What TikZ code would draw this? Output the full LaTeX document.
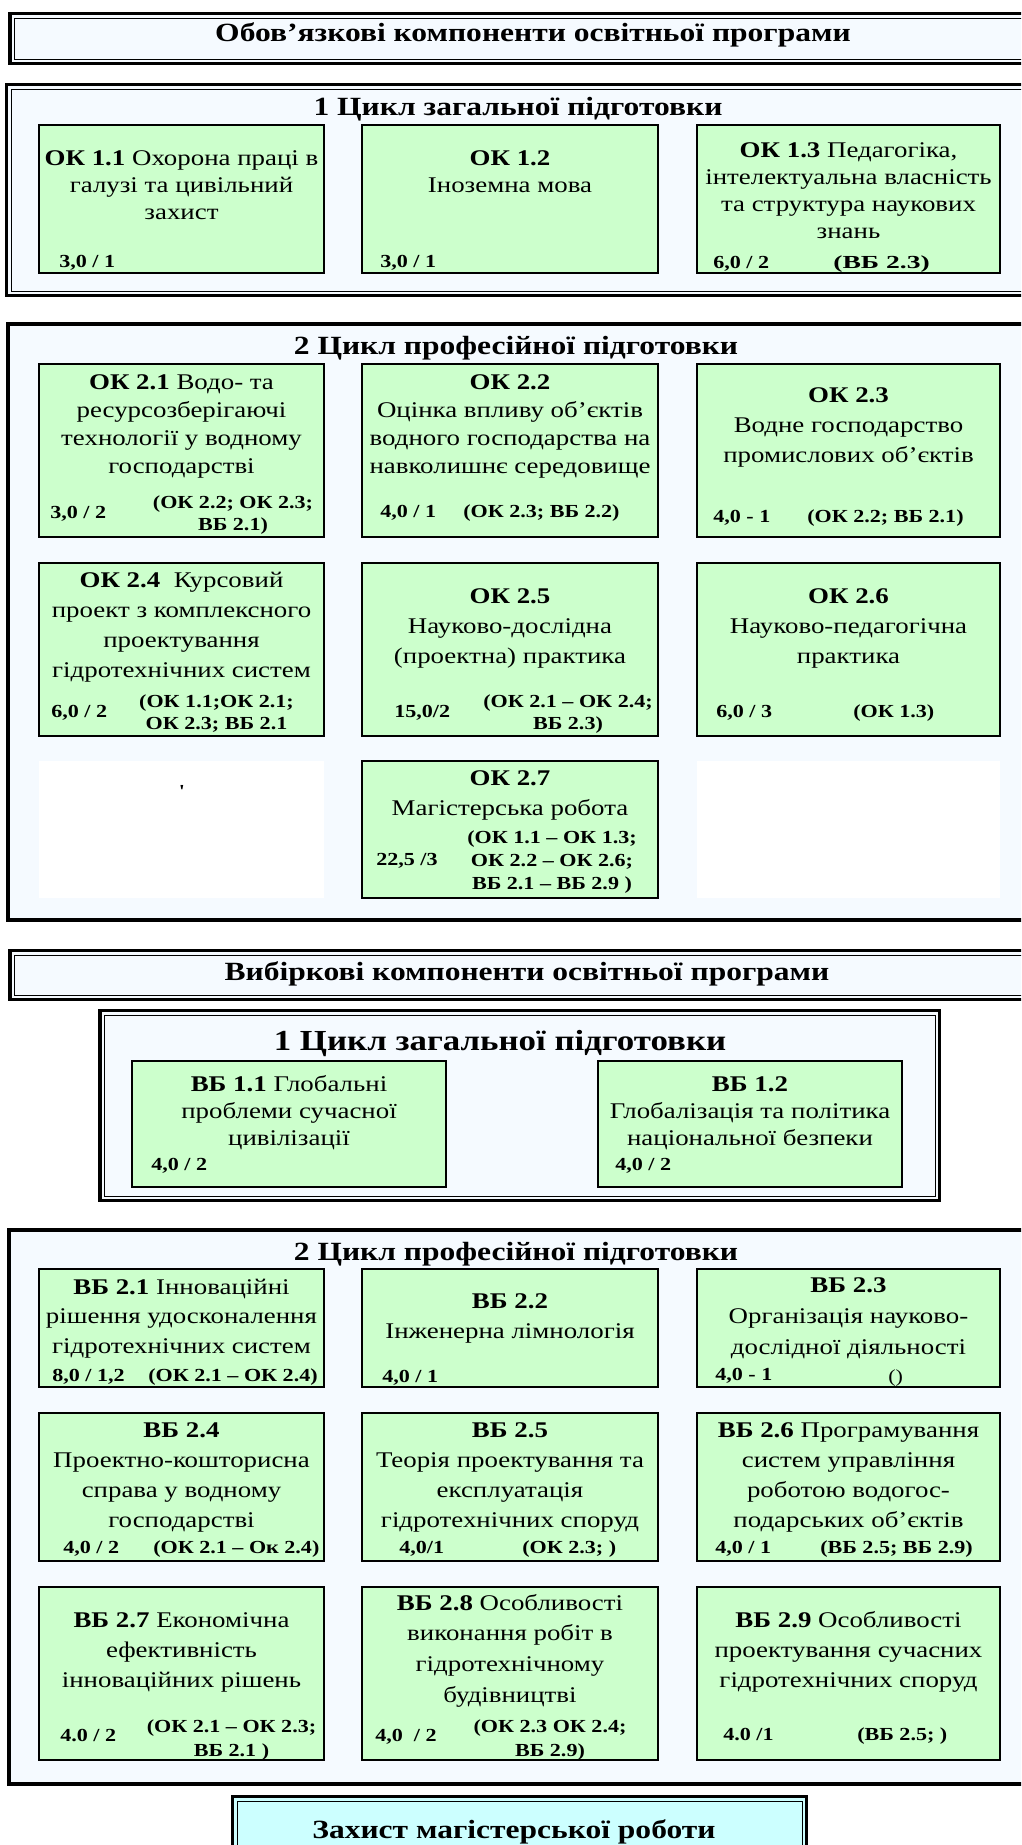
\documentclass[tikz,border=0pt]{standalone}
\usepackage{fontspec}
\setmainfont{Liberation Serif}[FakeStretch=1.2]
\newfontfamily\plainserif{Liberation Serif}[FakeStretch=1.2]
\definecolor{boxgreen}{RGB}{204,255,204}
\definecolor{framebg}{RGB}{245,250,255}
\definecolor{finalbg}{RGB}{204,255,255}
\newcommand{\smallfs}{\fontsize{13.8}{16.5}\selectfont\bfseries}
\newcommand{\headfs}{\fontsize{19.7}{24}\selectfont\bfseries}
\newcommand{\bigheadfs}{\fontsize{21.8}{26}\selectfont\bfseries}
\newcommand{\TB}[2]{{\fontsize{16.8}{#1}\selectfont\begin{tabular}[t]{@{}c@{}}#2\end{tabular}}}
\newcommand{\SB}[2]{{\fontsize{13.8}{#1}\selectfont\bfseries\begin{tabular}[t]{@{}c@{}}#2\end{tabular}}}
\setlength{\tabcolsep}{0pt}
\begin{document}
\begin{tikzpicture}[x=0.75pt,y=-0.75pt,
  gbox/.style={draw=black,line width=1.5pt,fill=boxgreen},
  wbox/.style={fill=white},
  outerline/.style={draw=black,line width=2.3pt,fill=framebg},
  innerline/.style={draw=black,line width=0.75pt},
  thickframe/.style={draw=black,line width=3pt,fill=framebg},
  txt/.style={inner sep=0pt,anchor=base},
  sm/.style={inner sep=0pt,anchor=base west,font=\smallfs},
  smc/.style={inner sep=0pt,anchor=base},
  head/.style={inner sep=0pt,anchor=base,font=\headfs}]
\useasboundingbox (0,0) rectangle (1021,1845);
\clip (0,0) rectangle (1021,1845);
\fill[white] (0,0) rectangle (1021,1845);
% ---------- Title 1
\path[outerline] (10,13.5) rectangle (1040,63.5);
\path[innerline] (14.5,18) rectangle (1040,59);
\node[head] (title1) at (533,41) {Обов’язкові компоненти освітньої програми};
% ---------- Section 1
\path[outerline] (6.5,84.5) rectangle (1040,295.5);
\path[innerline] (11,89) rectangle (1040,291);
\node[head] (h1) at (518,115) {1 Цикл загальної підготовки};
\path[gbox] (39,125) rectangle (324,273);
\path[gbox] (362,125) rectangle (658,273);
\path[gbox] (697,125) rectangle (1000,273);
\node[txt] (t11) at (181.5,165) {\TB{20.6pt}{\textbf{ОК 1.1} Охорона праці в\\галузі та цивільний\\захист}};
\node[sm] (s11) at (59,267) {3,0 / 1};
\node[txt] (t12) at (510,165) {\TB{20.6pt}{\textbf{ОК 1.2}\\Іноземна мова}};
\node[sm] (s12) at (380,267) {3,0 / 1};
\node[txt] (t13) at (848.5,157) {\TB{20.3pt}{\textbf{ОК 1.3} Педагогіка,\\інтелектуальна власність\\та структура наукових\\знань}};
\node[sm] (s13a) at (713,268) {6,0 / 2};
\node[sm,xscale=1.25,transform shape] (s13b) at (833,268) {(ВБ 2.3)};
% ---------- Section 2
\path[thickframe] (8,324) rectangle (1040,920);
\node[head] (h2) at (516,354) {2 Цикл професійної підготовки};
\path[gbox] (39,364) rectangle (324,537);
\path[gbox] (362,364) rectangle (658,537);
\path[gbox] (697,364) rectangle (1000,537);
\path[gbox] (39,563) rectangle (324,736);
\path[gbox] (362,563) rectangle (658,736);
\path[gbox] (697,563) rectangle (1000,736);
\path[wbox] (39,761) rectangle (324,898);
\path[gbox] (362,761) rectangle (658,898);
\path[wbox] (697,761) rectangle (1000,898);
\node[txt] (t21) at (181.5,389) {\TB{21pt}{\textbf{ОК 2.1} Водо- та\\ресурсозберігаючі\\технології у водному\\господарстві}};
\node[sm] (s21a) at (50,518) {3,0 / 2};
\node[smc] (s21b) at (233,508) {\SB{16.5pt}{(ОК 2.2; ОК 2.3;\\ВБ 2.1)}};
\node[txt] (t22) at (510,389) {\TB{21pt}{\textbf{ОК 2.2}\\Оцінка впливу об’єктів\\водного господарства на\\навколишнє середовище}};
\node[sm] (s22a) at (380,517) {4,0 / 1};
\node[sm] (s22b) at (463,517) {(ОК 2.3; ВБ 2.2)};
\node[txt] (t23) at (848.5,402) {\TB{22.8pt}{\textbf{ОК 2.3}\\Водне господарство\\промислових об’єктів}};
\node[sm] (s23a) at (713,522) {4,0 - 1};
\node[sm] (s23b) at (807,522) {(ОК 2.2; ВБ 2.1)};
\node[txt] (t24) at (181.5,587) {\TB{22.5pt}{\textbf{ОК 2.4}\ \ Курсовий\\проект з комплексного\\проектування\\гідротехнічних систем}};
\node[sm] (s24a) at (51,717) {6,0 / 2};
\node[smc] (s24b) at (216.5,707) {\SB{17.2pt}{(ОК 1.1;ОК 2.1;\\ОК 2.3; ВБ 2.1}};
\node[txt] (t25) at (510,603) {\TB{22.5pt}{\textbf{ОК 2.5}\\Науково-дослідна\\(проектна) практика}};
\node[sm] (s25a) at (394,717) {15,0/2};
\node[smc] (s25b) at (568,707) {\SB{17.2pt}{(ОК 2.1 – ОК 2.4;\\ВБ 2.3)}};
\node[txt] (t26) at (848.5,603) {\TB{22.5pt}{\textbf{ОК 2.6}\\Науково-педагогічна\\практика}};
\node[sm] (s26a) at (716,717) {6,0 / 3};
\node[sm] (s26b) at (853,717) {(ОК 1.3)};
\node[txt] (t27) at (510,785) {\TB{22.5pt}{\textbf{ОК 2.7}\\Магістерська робота}};
\node[smc] (s27b) at (552,843) {\SB{17.6pt}{(ОК 1.1 – ОК 1.3;\\ОК 2.2 – ОК 2.6;\\ВБ 2.1 – ВБ 2.9 )}};
\node[sm] (s27a) at (376,865) {22,5 /3};
\node[txt,font=\plainserif\bfseries\fontsize{13.8}{15}\selectfont] (tick) at (182,797) {'};
% ---------- Title 2
\path[outerline] (10,950.5) rectangle (1040,999.5);
\path[innerline] (14.5,955) rectangle (1040,995);
\node[head] (title2) at (527,980) {Вибіркові компоненти освітньої програми};
% ---------- Section 3
\path[outerline] (100,1010.5) rectangle (939.5,1200.5);
\path[innerline] (104.5,1015) rectangle (935,1196);
\node[head,font=\bigheadfs] (h3) at (500,1050) {1 Цикл загальної підготовки};
\path[gbox] (132,1061) rectangle (446,1187);
\path[gbox] (598,1061) rectangle (902,1187);
\node[txt] (t31) at (289,1091) {\TB{20.3pt}{\textbf{ВБ 1.1} Глобальні\\проблеми сучасної\\цивілізації}};
\node[sm] (s31) at (151,1170) {4,0 / 2};
\node[txt] (t32) at (750,1091) {\TB{20.3pt}{\textbf{ВБ 1.2}\\Глобалізація та політика\\національної безпеки}};
\node[sm] (s32) at (615,1170) {4,0 / 2};
% ---------- Section 4
\path[thickframe] (8.5,1230) rectangle (1040,1784);
\node[head] (h4) at (516,1260) {2 Цикл професійної підготовки};
\path[gbox] (39,1269) rectangle (324,1387);
\path[gbox] (362,1269) rectangle (658,1387);
\path[gbox] (697,1269) rectangle (1000,1387);
\path[gbox] (39,1413) rectangle (324,1561);
\path[gbox] (362,1413) rectangle (658,1561);
\path[gbox] (697,1413) rectangle (1000,1561);
\path[gbox] (39,1587) rectangle (324,1760);
\path[gbox] (362,1587) rectangle (658,1760);
\path[gbox] (697,1587) rectangle (1000,1760);
\node[txt] (t41) at (181.5,1294) {\TB{22.3pt}{\textbf{ВБ 2.1} Інноваційні\\рішення удосконалення\\гідротехнічних систем}};
\node[sm] (s41a) at (52,1381) {8,0 / 1,2};
\node[sm] (s41b) at (148,1381) {(ОК 2.1 – ОК 2.4)};
\node[txt] (t42) at (510,1308) {\TB{23pt}{\textbf{ВБ 2.2}\\Інженерна лімнологія}};
\node[sm] (s42) at (382,1382) {4,0 / 1};
\node[txt] (t43) at (848.5,1292) {\TB{23.5pt}{\textbf{ВБ 2.3}\\Організація науково-\\дослідної діяльності}};
\node[sm] (s43a) at (715,1380) {4,0 - 1};
\node[sm,font=\fontsize{13.8}{15}\selectfont] (s43b) at (888,1382) {()};
\node[txt] (t44) at (181.5,1437) {\TB{22.5pt}{\textbf{ВБ 2.4}\\Проектно-кошторисна\\справа у водному\\господарстві}};
\node[sm] (s44a) at (63,1553) {4,0 / 2};
\node[sm] (s44b) at (153,1553) {(ОК 2.1 – Ок 2.4)};
\node[txt] (t45) at (510,1437) {\TB{22.5pt}{\textbf{ВБ 2.5}\\Теорія проектування та\\експлуатація\\гідротехнічних споруд}};
\node[sm] (s45a) at (399,1553) {4,0/1};
\node[sm] (s45b) at (522,1553) {(ОК 2.3; )};
\node[txt] (t46) at (848.5,1437) {\TB{22.5pt}{\textbf{ВБ 2.6} Програмування\\систем управління\\роботою водогос-\\подарських об’єктів}};
\node[sm] (s46a) at (715,1553) {4,0 / 1};
\node[sm] (s46b) at (820,1553) {(ВБ 2.5; ВБ 2.9)};
\node[txt] (t47) at (181.5,1627) {\TB{22.8pt}{\textbf{ВБ 2.7} Економічна\\ефективність\\інноваційних рішень}};
\node[sm] (s47a) at (60,1741) {4.0 / 2};
\node[smc] (s47b) at (231.5,1732) {\SB{18.5pt}{(ОК 2.1 – ОК 2.3;\\ВБ 2.1 )}};
\node[txt] (t48) at (510,1610) {\TB{23pt}{\textbf{ВБ 2.8} Особливості\\виконання робіт в\\гідротехнічному\\будівництві}};
\node[sm] (s48a) at (375,1741) {4,0\ \ / 2};
\node[smc] (s48b) at (550,1732) {\SB{18.5pt}{(ОК 2.3 ОК 2.4;\\ВБ 2.9)}};
\node[txt] (t49) at (848.5,1627) {\TB{22.5pt}{\textbf{ВБ 2.9} Особливості\\проектування сучасних\\гідротехнічних споруд}};
\node[sm] (s49a) at (723,1740) {4.0 /1};
\node[sm] (s49b) at (857,1740) {(ВБ 2.5; )};
% ---------- Final box
\path[draw=black,line width=2.3pt,fill=finalbg] (232.5,1796.5) rectangle (806.5,1870);
\path[innerline] (237,1801) rectangle (802,1870);
\node[head] (final) at (514,1838) {Захист магістерської роботи};
\end{tikzpicture}
\end{document}
